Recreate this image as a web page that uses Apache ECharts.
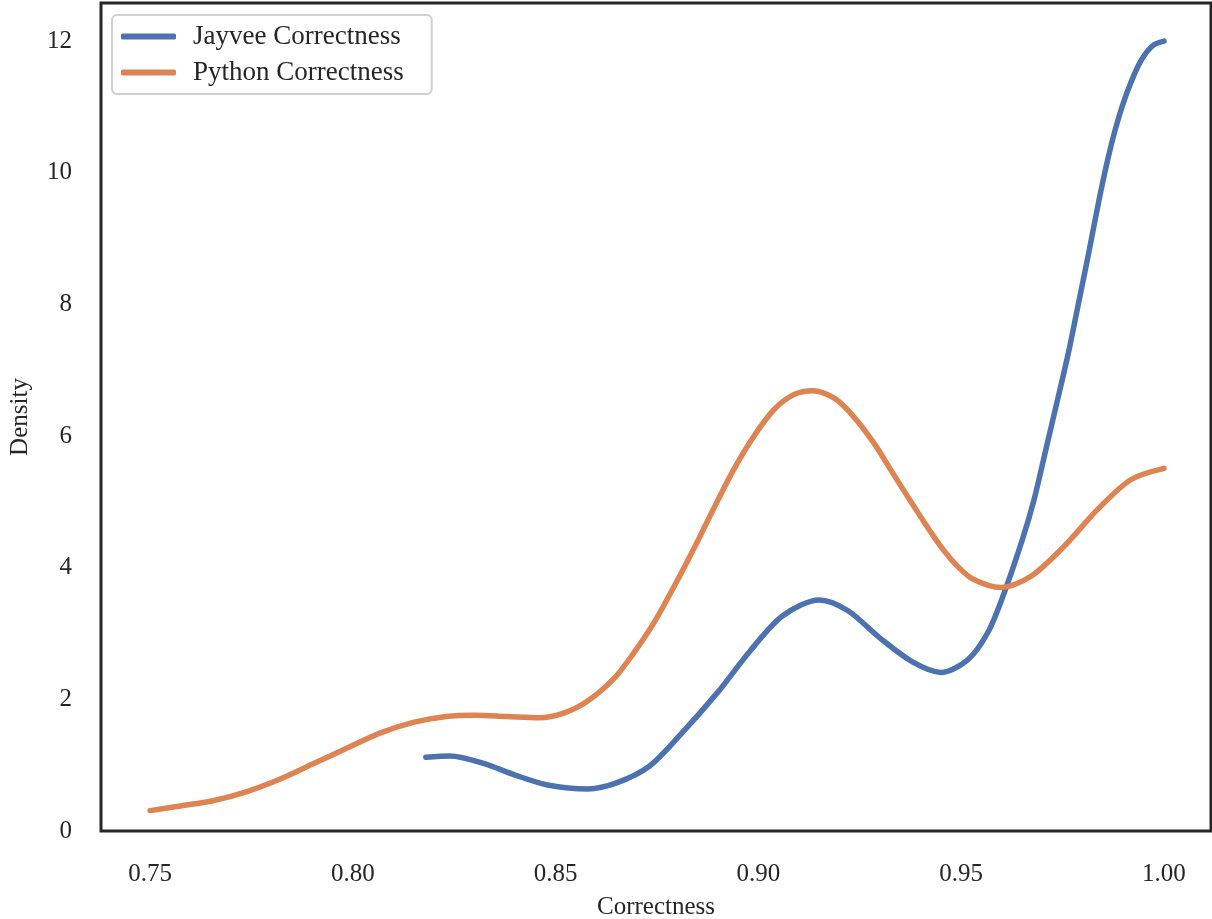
<!DOCTYPE html>
<html>
<head>
<meta charset="utf-8">
<script src="https://cdn.jsdelivr.net/npm/echarts@6/dist/echarts.min.js"></script>
<style>
html,body{margin:0;padding:0;background:#fff;}
#chart{width:1212px;height:919px;}
</style>
</head>
<body>
<div id="chart"></div>
<script>
// Jayvee Correctness KDE (x, density)
const jayveeX = [0.818,0.824,0.832,0.840,0.848,0.858,0.865,0.873,0.881,0.890,0.898,0.906,0.915,0.922,0.930,0.938,0.945,0.9516,0.9566,0.9605,0.9651,0.9680,0.9709,0.9738,0.9766,0.9791,0.9816,0.9840,0.9862,0.9880,0.9898,0.9919,0.9943,0.9972,1.0];
const jayveeY = [1.12,1.14,1.03,0.85,0.70,0.64,0.73,0.98,1.48,2.11,2.74,3.27,3.51,3.35,2.93,2.57,2.41,2.60,3.02,3.60,4.43,5.04,5.80,6.56,7.31,8.07,8.83,9.59,10.22,10.66,11.03,11.38,11.70,11.93,12.00];
// Python Correctness KDE (x, density)
const pythonX = [0.750,0.7574,0.7655,0.7739,0.7821,0.7902,0.7986,0.8068,0.8149,0.8230,0.8300,0.8380,0.8460,0.8520,0.8578,0.8643,0.8692,0.8741,0.8796,0.8840,0.8889,0.8939,0.8988,0.9038,0.9087,0.9134,0.9186,0.9230,0.9284,0.9326,0.9368,0.9408,0.9450,0.9491,0.9531,0.9598,0.9672,0.9753,0.9837,0.9919,1.0];
const pythonY = [0.31,0.38,0.46,0.60,0.79,1.02,1.26,1.49,1.65,1.74,1.76,1.74,1.72,1.79,1.97,2.31,2.70,3.15,3.76,4.28,4.89,5.49,5.99,6.40,6.63,6.69,6.58,6.33,5.90,5.49,5.08,4.70,4.32,4.02,3.82,3.70,3.87,4.32,4.89,5.34,5.51];
const xTicks = [0.75,0.80,0.85,0.90,0.95,1.00];
const yTicks = [0,2,4,6,8,10,12];
const seriesNames = ['Jayvee Correctness','Python Correctness'];

const zip = (xs, ys) => xs.map((x, i) => [x, ys[i]]);
const font = 'Liberation Serif';
const textColor = '#262626';

const chart = echarts.init(document.getElementById('chart'), null, {renderer: 'canvas'});
chart.setOption({
  animation: false,
  backgroundColor: '#ffffff',
  grid: {left: 101, right: 1, top: 3, bottom: 88, outerBoundsMode: 'none', containLabel: false,
         show: true, borderColor: '#262626', borderWidth: 3, backgroundColor: 'transparent'},
  legend: {
    orient: 'vertical', left: 112, top: 15,
    padding: [8, 28, 8, 9],
    itemGap: 9,
    icon: 'roundRect', itemWidth: 55, itemHeight: 6,
    backgroundColor: '#ffffff', borderColor: '#d0d0d0', borderWidth: 2, borderRadius: 5,
    textStyle: {fontFamily: font, fontSize: 27, color: textColor, padding: [0, 0, 0, 12]},
    data: seriesNames
  },
  xAxis: {
    type: 'value', min: 0.7379, max: 1.0116,
    name: 'Correctness', nameLocation: 'middle', nameGap: 64,
    nameTextStyle: {fontFamily: font, fontSize: 25, color: textColor},
    axisLine: {show: false}, axisTick: {show: false}, splitLine: {show: false},
    axisLabel: {customValues: xTicks, formatter: v => v.toFixed(2), fontFamily: font, fontSize: 25, color: textColor, margin: 31, showMinLabel: true, showMaxLabel: true}
  },
  yAxis: {
    type: 'value', min: 0, max: 12.58,
    name: 'Density', nameLocation: 'middle', nameGap: 68,
    nameTextStyle: {fontFamily: font, fontSize: 25, color: textColor},
    axisLine: {show: false}, axisTick: {show: false}, splitLine: {show: false},
    axisLabel: {customValues: yTicks, fontFamily: font, fontSize: 25, color: textColor, margin: 29}
  },
  series: [
    {name: seriesNames[0], type: 'line', data: zip(jayveeX, jayveeY), smooth: 0.3, showSymbol: false, symbol: 'none',
     color: '#4c72b0', lineStyle: {width: 5.5, color: '#4c72b0', cap: 'round'}},
    {name: seriesNames[1], type: 'line', data: zip(pythonX, pythonY), smooth: 0.3, showSymbol: false, symbol: 'none',
     color: '#dd8452', lineStyle: {width: 5.5, color: '#dd8452', cap: 'round'}}
  ]
});
</script>
</body>
</html>
